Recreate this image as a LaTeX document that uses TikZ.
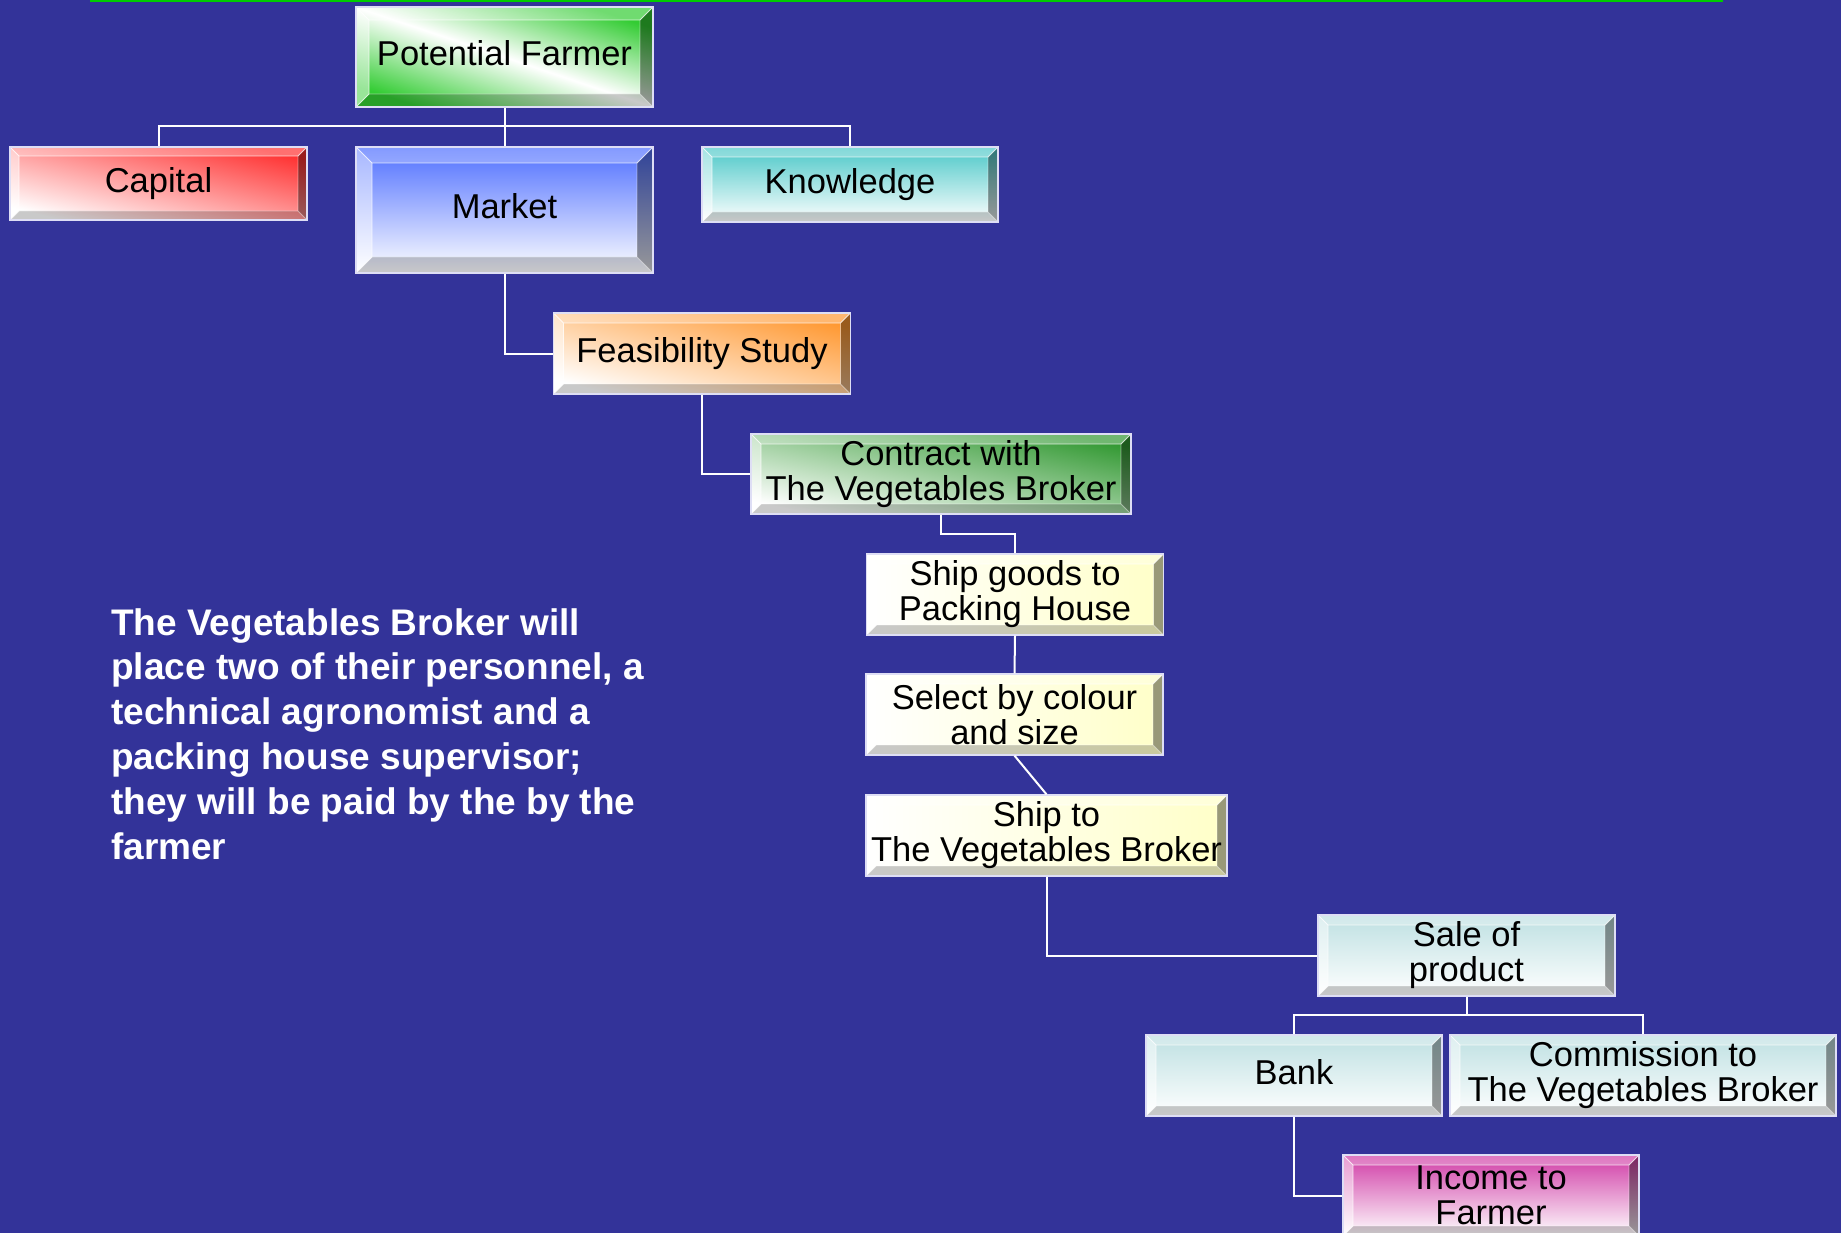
\documentclass[tikz,border=0pt]{standalone}
\usepackage{fontspec}
\setmainfont{Liberation Sans}
\usetikzlibrary{calc}
\definecolor{bg}{HTML}{333399}
\definecolor{topline}{HTML}{00CC00}
\definecolor{boxedge}{RGB}{222,222,245}
\definecolor{cgreen}{HTML}{33CC33}
\definecolor{cred}{HTML}{FF3333}
\definecolor{cblue}{HTML}{4F6FFF}
\definecolor{cteal}{HTML}{4CC8C8}
\definecolor{corange}{HTML}{FF9933}
\definecolor{cdgreen}{HTML}{339933}
\definecolor{cyellow}{HTML}{FFFFC8}
\definecolor{cice}{HTML}{BEE0E2}
\definecolor{cmag}{HTML}{D03CA6}
\tikzset{
  bev/.style={path picture={
    \path (path picture bounding box.north west) coordinate (pA)
          (path picture bounding box.north east) coordinate (pB)
          (path picture bounding box.south east) coordinate (pC)
          (path picture bounding box.south west) coordinate (pD);
    \path ($(pA)+(#1,#1)$) coordinate (pa)
          ($(pB)+(-#1,#1)$) coordinate (pb)
          ($(pC)+(-#1,-#1)$) coordinate (pc)
          ($(pD)+(#1,-#1)$) coordinate (pd);
    \fill[white,opacity=.3] (pA)--(pB)--(pb)--(pa)--cycle;
    \fill[white,opacity=.5] (pA)--(pa)--(pd)--(pD)--cycle;
    \fill[black,opacity=.4] (pB)--(pC)--(pc)--(pb)--cycle;
    \fill[black,opacity=.21] (pD)--(pd)--(pc)--(pC)--cycle;
    \draw[white,opacity=.75,line width=.9pt] (pd)--(pa)--(pb) (pA)--(pa) (pB)--(pb) (pD)--(pd);
    \draw[white,opacity=.45,line width=.9pt] (pd)--(pc)--(pb) (pC)--(pc);
  }},
  box/.style={rectangle, inner sep=0pt, draw=boxedge, line width=1.3pt,
    font=\fontsize{34.5}{35}\selectfont, align=center, text=black, bev=#1},
  nodesc/.style={text depth=7pt},
  conn/.style={draw=white, line width=2pt},
  note/.style={anchor=base west, inner sep=0pt, text=white, align=left,
    font=\bfseries\fontsize{37}{44.8}\selectfont}
}
\begin{document}
\begin{tikzpicture}[x=1pt,y=-1pt]
\useasboundingbox (0,0) rectangle (1841,1233);
\clip (0,0) rectangle (1841,1233);
\fill[bg] (0,0) rectangle (1841,1233);
\draw[topline, line width=2.2pt] (90,0.8) -- (1723,0.8);

% boxes
\node[box=13, nodesc, top color=cgreen, bottom color=cgreen, middle color=white, shading angle=-18.6,
  minimum width=297pt, minimum height=100pt] (pf) at (504.5,57) {Potential Farmer};
\node[box=9, bottom color=white, top color=cred, shading angle=-14,
  minimum width=297pt, minimum height=73pt] (cap) at (158.5,183.5) {Capital};
\node[box=16, nodesc, top color=cblue, bottom color=white,
  minimum width=297pt, minimum height=126pt] (mkt) at (504.5,210) {Market};
\node[box=10, top color=cteal, bottom color=white,
  minimum width=296pt, minimum height=75pt] (know) at (850,184.5) {Knowledge};
\node[box=10, bottom color=white, top color=corange, shading angle=-15,
  minimum width=297pt, minimum height=81pt] (feas) at (702,353.5) {Feasibility Study};
\node[box=10, bottom color=white, top color=cdgreen, shading angle=-12,
  minimum width=380pt, minimum height=80pt] (con) at (941,474) {Contract with\\The Vegetables Broker};
\node[box=10, left color=white, right color=cyellow,
  minimum width=297pt, minimum height=81pt] (ship) at (1015,594.5) {Ship goods to\\Packing House};
\node[box=10, left color=white, right color=cyellow,
  minimum width=297pt, minimum height=81pt] (sel) at (1014.5,714.5) {Select by colour\\and size};
\node[box=10, left color=white, right color=cyellow,
  minimum width=361pt, minimum height=81pt] (shipto) at (1046.5,835.5) {Ship to\\The Vegetables Broker};
\node[box=10, top color=cice, bottom color=white,
  minimum width=297pt, minimum height=81pt] (sale) at (1466.5,955.5) {Sale of\\product};
\node[box=10, nodesc, top color=cice, bottom color=white,
  minimum width=296pt, minimum height=81pt] (bank) at (1294,1075.5) {Bank};
\node[box=10, top color=cice, bottom color=white,
  minimum width=386pt, minimum height=81pt] (comm) at (1643,1075.5) {Commission to\\The Vegetables Broker};
\node[box=10, top color=cmag, bottom color=white,
  minimum width=296pt, minimum height=81pt] (inc) at (1491,1195.5) {Income to\\Farmer};

% connectors
\coordinate (j1) at (504.5,126);
\coordinate (j2) at (1015,534);
\coordinate (j3) at (1466.5,1015);
\draw[conn] (pf.south) -- (mkt.north);
\draw[conn] (cap.north) |- (j1) -| (know.north);
\draw[conn] (mkt.south) |- (feas.west);
\draw[conn] (feas.south) |- (con.west);
\draw[conn] (con.south) |- (j2) -- (ship.north);
\draw[conn] (ship.south) -- (sel.north);
\draw[conn] (sel.south) -- (shipto.north);
\draw[conn] (shipto.south) |- (sale.west);
\draw[conn] (sale.south) -- (j3);
\draw[conn] (bank.north) |- (j3) -| (comm.north);
\draw[conn] (bank.south) |- (inc.west);

% note text
\node[note] (txt) at (111,859) {The Vegetables Broker will\\place two of their personnel, a\\technical agronomist and a\\packing house supervisor;\\they will be paid by the by the\\farmer};
\end{tikzpicture}
\end{document}
